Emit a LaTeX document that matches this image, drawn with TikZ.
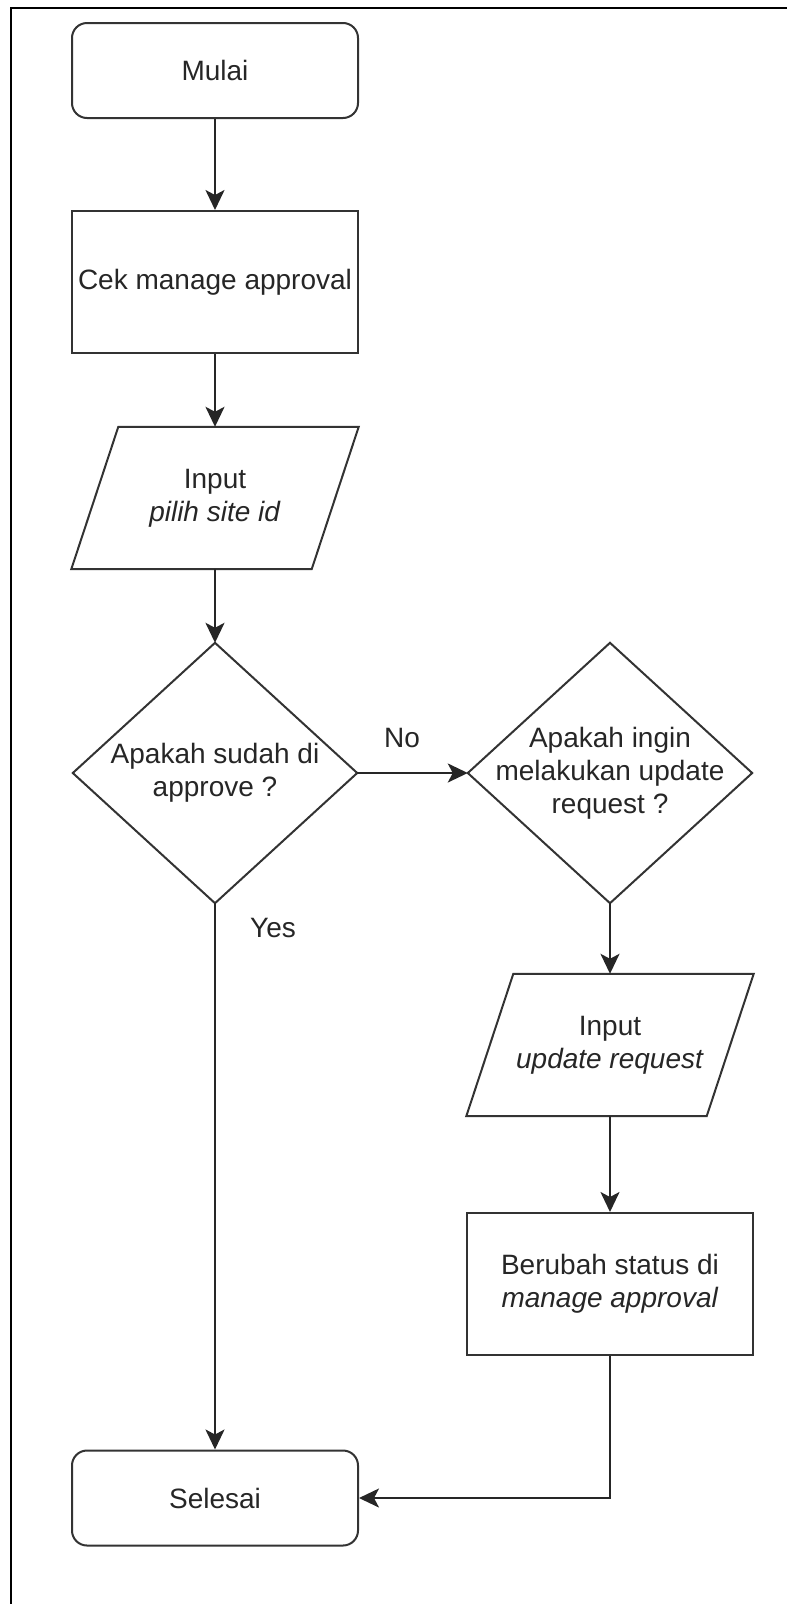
\documentclass[tikz,border=0pt]{standalone}
\usepackage{fontspec}
\setmainfont{Liberation Sans}
\usetikzlibrary{arrows.meta}
\begin{document}
\begin{tikzpicture}[x=1pt,y=-1pt,
  every node/.style={font=\fontsize{28}{33}\selectfont, text=black!85, align=center, inner sep=0pt},
  outline/.style={draw=black!80, line width=2pt},
  terminal/.style={outline, rounded corners=15pt, minimum width=286pt, minimum height=95pt},
  process/.style={outline, minimum width=286pt, minimum height=142pt},
  iobox/.style={minimum width=240pt, minimum height=142pt},
  decision/.style={minimum width=284pt, minimum height=260pt},
  flow/.style={draw=black!85, line width=2.2pt, -{Stealth[length=20pt,width=19pt,inset=5pt]}},
  label/.style={font=\fontsize{28}{33}\selectfont}]
  \useasboundingbox (0,0) rectangle (787,1604);
  % page frame (left and top edges)
  \draw[line width=2pt, black] (11,1604) -- (11,8) -- (787,8);

  % left column
  \node[terminal] (start) at (215,70.5) {Mulai};
  \node[process] (check) at (215,282) {Cek manage approval};
  \node[iobox] (in1) at (215,498) {Input\\\textit{pilih site id}};
  \node[decision] (d1) at (215,773) {Apakah sudah di\\approve ?};
  \node[terminal] (stop) at (215,1498) {Selesai};

  % right column
  \node[decision] (d2) at (610,773) {Apakah ingin\\melakukan update\\request ?};
  \node[iobox] (in2) at (610,1045) {Input\\\textit{update request}};
  \node[process] (change) at (610,1284) {Berubah status di\\\textit{manage approval}};

  % parallelogram and diamond outlines
  \foreach \n in {in1,in2}
    \draw[outline] ([xshift=23.5pt]\n.north west) -- ([xshift=23.5pt]\n.north east)
      -- ([xshift=-23.5pt]\n.south east) -- ([xshift=-23.5pt]\n.south west) -- cycle;
  \foreach \n in {d1,d2}
    \draw[outline] (\n.north) -- (\n.east) -- (\n.south) -- (\n.west) -- cycle;

  % connectors
  \draw[flow] (start) -- (check);
  \draw[flow] (check) -- (in1.north);
  \draw[flow] (in1.south) -- (d1.north);
  \draw[flow] (d1.east) -- (d2.west);
  \draw[flow] (d1.south) -- (stop);
  \draw[flow] (d2.south) -- (in2.north);
  \draw[flow] (in2.south) -- (change);
  \draw[flow] (change.south) |- (stop.east);

  % branch labels
  \node[label] (no) at (402,738) {No};
  \node[label] (yes) at (273,928) {Yes};
\end{tikzpicture}
\end{document}
